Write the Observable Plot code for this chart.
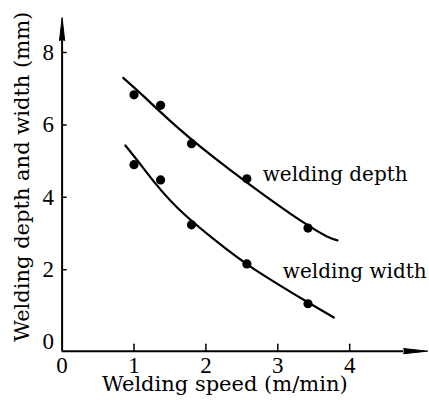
<!DOCTYPE html>
<html><head><meta charset="utf-8">
<script src="https://cdn.jsdelivr.net/npm/d3@7"></script>
<script src="https://cdn.jsdelivr.net/npm/@observablehq/plot@0.6"></script>
<style>body{margin:0;background:#fff} svg{display:block}</style>
</head><body><div id="chart"></div>
<script>
// measured points
const speed = [1.0, 1.37, 1.8, 2.57, 3.42];
const depth = [6.83, 6.54, 5.48, 4.51, 3.15];
const widthVals = [4.9, 4.48, 3.24, 2.16, 1.06];
// fitted curves
const depthCurveX = [0.85, 1.14, 1.6, 2.35, 3.4, 3.83];
const depthCurveY = [7.30, 6.78, 5.94, 4.74, 3.25, 2.81];
const widthCurveX = [0.88, 1.14, 1.6, 2.3, 2.8, 3.4, 3.78];
const widthCurveY = [5.43, 4.78, 3.72, 2.55, 1.85, 1.12, 0.68];
// ticks
const xTicks = [1, 2, 3, 4];
const xTickLabels = [0, 1, 2, 3, 4];
const yTicks = [2, 4, 6, 8];
const yTickLabels = [0, 2, 4, 6, 8];
// texts
const seriesNames = ["welding depth", "welding width"];
const seriesLabelX = [2.79, 3.07];
const seriesLabelY = [4.44, 1.78];
const xTitle = "Welding speed (m/min)";
const yTitle = "Welding depth and width (mm)";

const serif = "DejaVu Serif";
const digits = "Liberation Serif";
const axisBase = -0.25;

const pts = (xs, ys) => xs.map((x, i) => ({x, y: ys[i]}));
const labels = seriesNames.map((t, i) => ({t, x: seriesLabelX[i], y: seriesLabelY[i]}));
const tickShape = {draw(context, l) { context.moveTo(0, 0); context.lineTo(0, -l); }};

const chart = Plot.plot({
  width: 429,
  height: 409,
  marginLeft: 61.6,
  marginRight: 7.9,
  marginTop: 15.8,
  marginBottom: 58.35,
  x: {domain: [0, 5], axis: null},
  y: {domain: [axisBase, 9], axis: null},
  style: {fontFamily: serif, color: "#000", background: "#fff"},
  marks: [
    // axis lines with arrowheads
    Plot.ruleY([axisBase], {x1: 0, x2: 4.75, strokeWidth: 2}),
    Plot.vector([4.75], {x: d => d, y: axisBase, length: 24, rotate: 90, anchor: "start", shape: "spike", r: 2.6, fill: "#000", stroke: "#000", strokeWidth: 1}),
    Plot.ruleX([0], {y1: axisBase, y2: 8.33, strokeWidth: 2}),
    Plot.vector([8.33], {x: 0, y: d => d, length: 23, rotate: 0, anchor: "start", shape: "spike", r: 2.6, fill: "#000", stroke: "#000", strokeWidth: 1}),
    // inward ticks
    Plot.vector(xTicks, {x: d => d, y: axisBase, length: 7, rotate: 0, anchor: "start", shape: tickShape, stroke: "#000", strokeWidth: 1.5}),
    Plot.vector(yTicks, {x: 0, y: d => d, length: 4, rotate: 90, anchor: "start", shape: tickShape, stroke: "#000", strokeWidth: 1.5}),
    // tick labels
    Plot.text(xTickLabels, {x: d => d, frameAnchor: "bottom", textAnchor: "middle", lineAnchor: "top", dy: 6, text: d => String(d), fontFamily: digits, fontSize: 23, fill: "#000"}),
    Plot.text(yTickLabels, {y: d => d, frameAnchor: "left", textAnchor: "end", lineAnchor: "middle", dx: -8, text: d => String(d), fontFamily: digits, fontSize: 23, fill: "#000"}),
    // curves
    Plot.line(pts(depthCurveX, depthCurveY), {x: "x", y: "y", curve: "natural", strokeWidth: 2.2, stroke: "#000"}),
    Plot.line(pts(widthCurveX, widthCurveY), {x: "x", y: "y", curve: "natural", strokeWidth: 2.2, stroke: "#000"}),
    // points
    Plot.dot(pts(speed, depth), {x: "x", y: "y", r: 4.6, fill: "#000"}),
    Plot.dot(pts(speed, widthVals), {x: "x", y: "y", r: 4.6, fill: "#000"}),
    // series labels
    Plot.text(labels, {x: "x", y: "y", text: "t", textAnchor: "start", lineAnchor: "bottom", fontSize: 20, fill: "#000"}),
    // axis titles
    Plot.text([xTitle], {frameAnchor: "bottom", textAnchor: "middle", lineAnchor: "middle", dx: -17, dy: 33, fontSize: 21, fill: "#000"}),
    Plot.text([yTitle], {frameAnchor: "left", textAnchor: "middle", lineAnchor: "middle", rotate: -90, dx: -39.6, dy: -7, fontSize: 21, fill: "#000"})
  ]
});
document.getElementById("chart").appendChild(chart);
</script>
</body></html>
